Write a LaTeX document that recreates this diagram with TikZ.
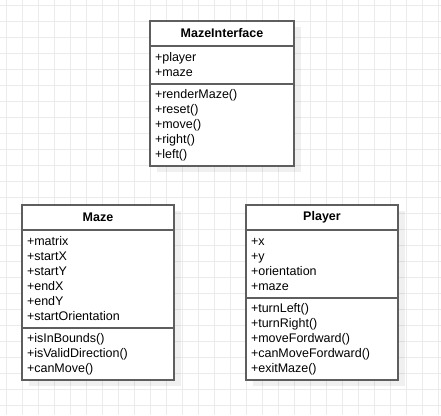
\documentclass[tikz,border=0pt]{standalone}
\usepackage{fontspec}
\setmainfont{Liberation Sans}
\usetikzlibrary{positioning,backgrounds}
\definecolor{umlline}{HTML}{5E5E5E}
\definecolor{gridgray}{HTML}{EBEBEB}
\tikzset{classhead/.style={draw=umlline,fill=white,line width=1.3pt,outer sep=0pt,inner xsep=5pt,inner ysep=0pt,align=center,font=\fontsize{12.5}{15}\selectfont\bfseries,minimum height=25pt},classpart/.style={draw=umlline,fill=white,line width=1.3pt,outer sep=0pt,inner xsep=5pt,inner ysep=0pt,align=left,font=\fontsize{12.5}{15}\selectfont}}

\begin{document}
\begin{tikzpicture}[x=1pt,y=-1pt,classshadow/.style={fill=black,opacity=0.06},gridline/.style={draw=gridgray,line width=0.8pt}]
\useasboundingbox (0,0) rectangle (441,415);
% interface
\node[classhead,text width=134pt] (iface) at (222,33.5) {MazeInterface};
\node[classpart,text width=134pt,minimum height=38pt,below=0pt of iface] (ifaceA) {+player\\+maze};
\node[classpart,text width=134pt,minimum height=82pt,below=0pt of ifaceA] (ifaceM) {+renderMaze()\\+reset()\\+move()\\+right()\\+left()};
% maze
\node[classhead,text width=142pt] (maze) at (98,217.5) {Maze};
\node[classpart,text width=142pt,minimum height=98pt,below=0pt of maze] (mazeA) {+matrix\\+startX\\+startY\\+endX\\+endY\\+startOrientation};
\node[classpart,text width=142pt,minimum height=52pt,below=0pt of mazeA] (mazeM) {+isInBounds()\\+isValidDirection()\\+canMove()};
% player
\node[classhead,text width=142pt] (player) at (322,217.5) {Player};
\node[classpart,text width=142pt,minimum height=68pt,below=0pt of player] (playerA) {+x\\+y\\+orientation\\+maze};
\node[classpart,text width=142pt,minimum height=82pt,below=0pt of playerA] (playerM) {+turnLeft()\\+turnRight()\\+moveFordward()\\+canMoveFordward()\\+exitMaze()};
\begin{scope}[on background layer]
\foreach \gx in {6,22,...,438} \draw[gridline] (\gx,0) -- (\gx,415);
\foreach \gy in {5,21,...,405} \draw[gridline] (0,\gy) -- (441,\gy);
\fill[classshadow] ([shift={(7,6)}]iface.north west) rectangle ([shift={(7,6)}]ifaceM.south east);
\fill[classshadow] ([shift={(7,6)}]maze.north west) rectangle ([shift={(7,6)}]mazeM.south east);
\fill[classshadow] ([shift={(7,6)}]player.north west) rectangle ([shift={(7,6)}]playerM.south east);
\end{scope}
\end{tikzpicture}
\end{document}
